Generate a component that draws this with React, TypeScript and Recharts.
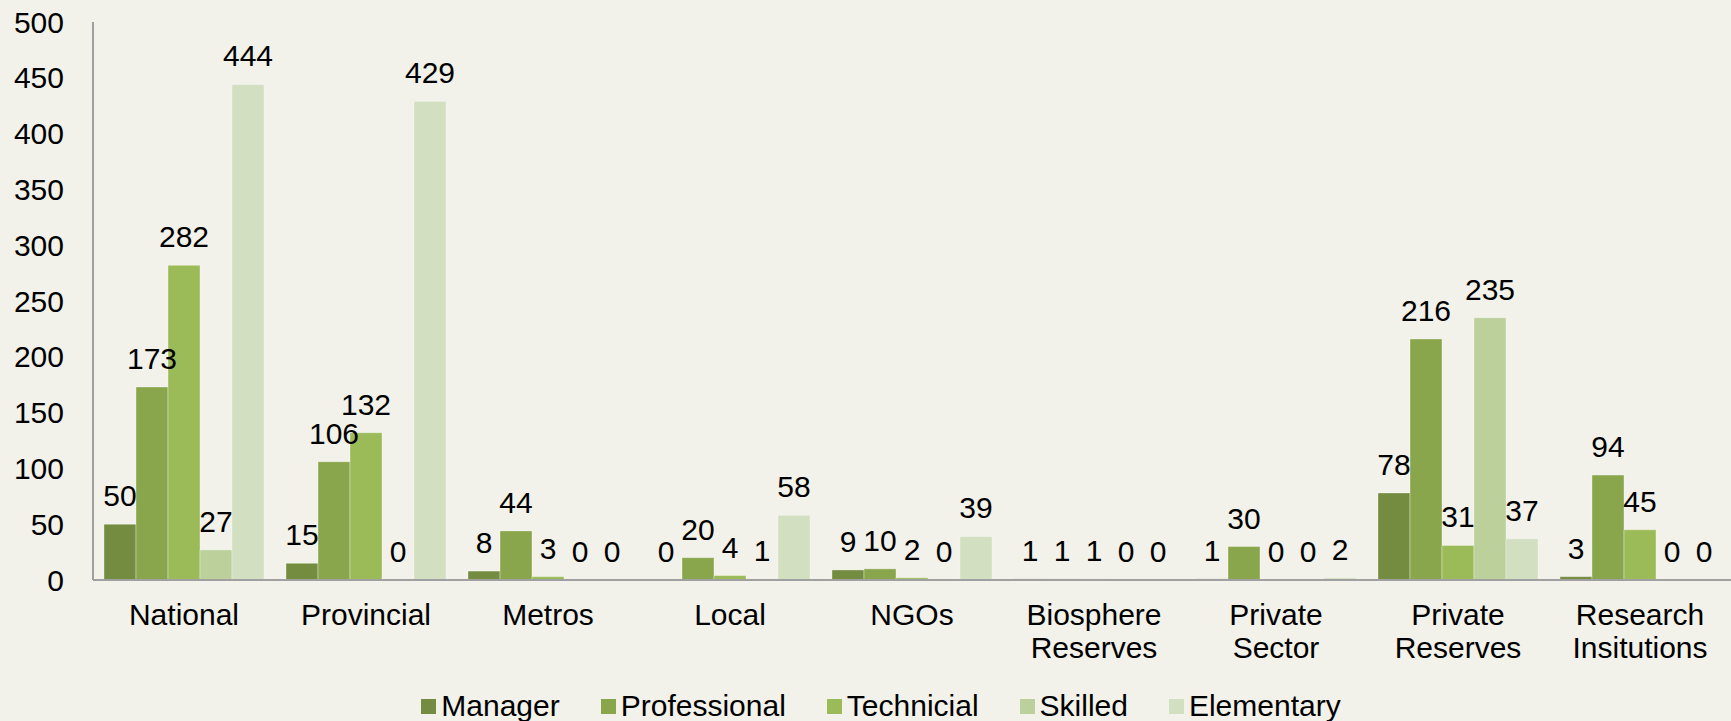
import { BarChart, Bar, XAxis, YAxis, Legend, LabelList } from 'recharts';

const categories = [
  'National', 'Provincial', 'Metros', 'Local', 'NGOs',
  'Biosphere Reserves', 'Private Sector', 'Private Reserves', 'Research Insitutions',
];

const manager = [50, 15, 8, 0, 9, 1, 1, 78, 3];
const professional = [173, 106, 44, 20, 10, 1, 30, 216, 94];
const technicial = [282, 132, 3, 4, 2, 1, 0, 31, 45];
const skilled = [27, 0, 0, 1, 0, 0, 0, 235, 0];
const elementary = [444, 429, 0, 58, 39, 0, 2, 37, 0];

const yTicks = [0, 50, 100, 150, 200, 250, 300, 350, 400, 450, 500];

const series = [
  { key: 'Manager', values: manager, color: '#738C3F' },
  { key: 'Professional', values: professional, color: '#8AA64D' },
  { key: 'Technicial', values: technicial, color: '#9BBB59' },
  { key: 'Skilled', values: skilled, color: '#BBD09A' },
  { key: 'Elementary', values: elementary, color: '#D3DFC1' },
];

const data = categories.map((name, i) => {
  const row: Record<string, string | number> = { name };
  series.forEach(s => { row[s.key] = s.values[i]; });
  return row;
});

const FONT = '"Liberation Sans", Arial, sans-serif';
const AXIS = '#A0A0A0';

// category labels wrap onto two lines at the space, top-aligned like Excel
function CategoryTick({ x, y, payload }: any) {
  const lines = String(payload.value).split(' ');
  return (
    <text x={x} y={y} textAnchor="middle" fontSize={30} fill="#000" fontFamily={FONT}>
      {lines.map((l, i) => (
        <tspan key={i} x={x} dy={i === 0 ? 45 : 33}>{l}</tspan>
      ))}
    </text>
  );
}

// value label above each bar, zeros included
function ValueLabel({ x, y, width, value }: any) {
  if (x == null || y == null) return null;
  return (
    <text x={Number(x) + Number(width) / 2} y={Number(y) - 18} textAnchor="middle" fontSize={30} fill="#000" fontFamily={FONT}>
      {value}
    </text>
  );
}

function LegendContent() {
  return (
    <div style={{
      display: 'flex', justifyContent: 'center', gap: 41, paddingLeft: 31,
      fontSize: 30, lineHeight: '34px', color: '#000', fontFamily: FONT,
    }}>
      {series.map(s => (
        <span key={s.key} style={{ display: 'inline-flex', alignItems: 'center' }}>
          <span style={{ width: 15, height: 15, background: s.color, marginRight: 5, display: 'inline-block' }} />
          {s.key}
        </span>
      ))}
    </div>
  );
}

export default function App() {
  return (
    <div style={{ position: 'absolute', left: 0, top: 0, width: 1731, height: 721, background: '#F2F2EA', fontFamily: FONT }}>
      <BarChart
        width={1731}
        height={721}
        data={data}
        margin={{ top: 22, right: 0, left: 0, bottom: 0 }}
        barCategoryGap={11}
        barGap={0}
      >
        <XAxis
          dataKey="name"
          height={141}
          tickLine={false}
          tickSize={0}
          tickMargin={0}
          interval={0}
          axisLine={{ stroke: AXIS, strokeWidth: 2 }}
          tick={<CategoryTick />}
        />
        <YAxis
          width={93}
          domain={[0, 500]}
          ticks={yTicks}
          tickLine={false}
          tickSize={0}
          tickMargin={29}
          axisLine={{ stroke: AXIS, strokeWidth: 2 }}
          tick={{ fontSize: 30, fill: '#000' }}
        />
        <Legend
          layout="horizontal"
          verticalAlign="middle"
          align="center"
          content={<LegendContent />}
          wrapperStyle={{ top: 689, left: 0, width: 1731 }}
        />
        {series.map(s => (
          <Bar
            key={s.key}
            dataKey={s.key}
            fill={s.color}
            stroke="rgba(255,255,255,0.35)"
            strokeWidth={1}
            minPointSize={0.01}
            isAnimationActive={false}
          >
            <LabelList dataKey={s.key} content={<ValueLabel />} />
          </Bar>
        ))}
      </BarChart>
    </div>
  );
}
